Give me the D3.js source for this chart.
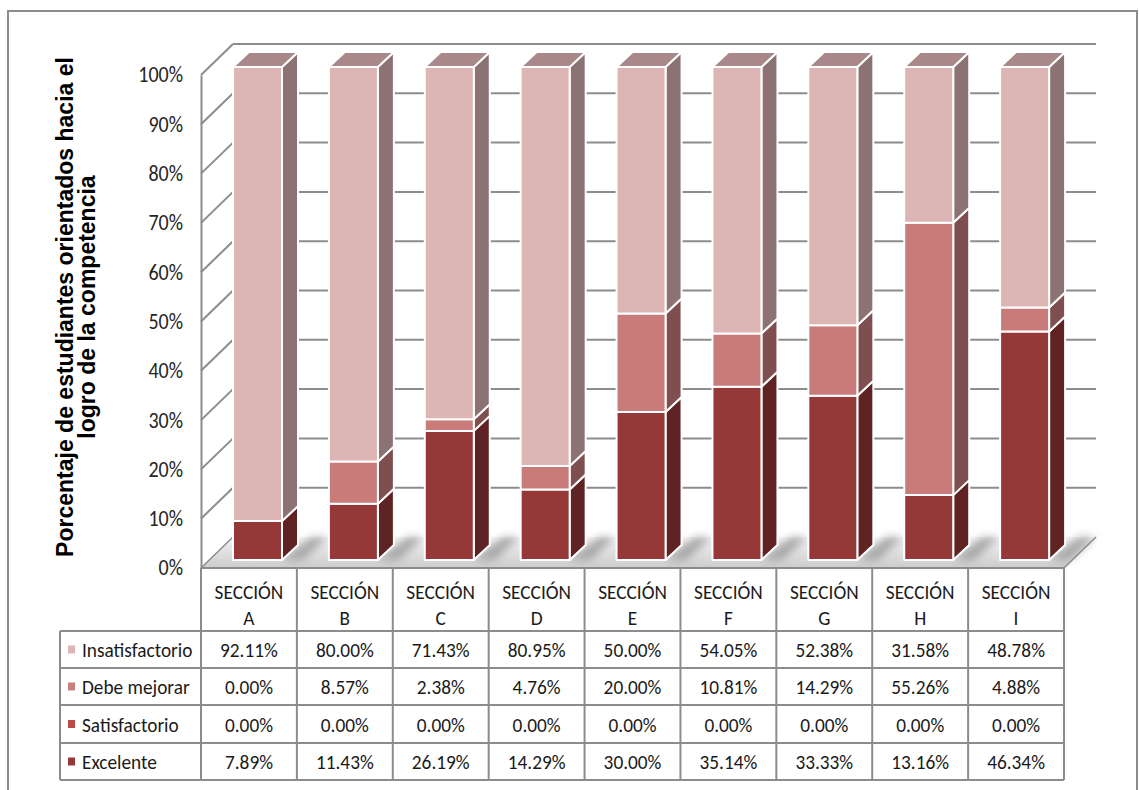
<!DOCTYPE html>
<html>
<head>
<meta charset="utf-8">
<script src="https://cdn.jsdelivr.net/npm/d3@7"></script>
<style>
  html, body { margin: 0; padding: 0; background: #ffffff; }
  svg { display: block; }
</style>
</head>
<body>
<script>
// Sections and level-of-achievement percentages per section
const sections = ["A", "B", "C", "D", "E", "F", "G", "H", "I"];
const sectionPrefix = "SECCIÓN";
const seriesNames = ["Insatisfactorio", "Debe mejorar", "Satisfactorio", "Excelente"];
const insatisfactorio = [92.11, 80.00, 71.43, 80.95, 50.00, 54.05, 52.38, 31.58, 48.78];
const debeMejorar    = [0.00, 8.57, 2.38, 4.76, 20.00, 10.81, 14.29, 55.26, 4.88];
const satisfactorio  = [0.00, 0.00, 0.00, 0.00, 0.00, 0.00, 0.00, 0.00, 0.00];
const excelente      = [7.89, 11.43, 26.19, 14.29, 30.00, 35.14, 33.33, 13.16, 46.34];
const yTicks = [0, 10, 20, 30, 40, 50, 60, 70, 80, 90, 100];
const yTitleLines = ["Porcentaje de estudiantes orientados hacia el", "logro de la competencia"];

const W = 1139, H = 790;
const svg = d3.select("body").append("svg").attr("width", W).attr("height", H);

// table rows keyed by series name
const seriesValues = {
  "Insatisfactorio": insatisfactorio,
  "Debe mejorar": debeMejorar,
  "Satisfactorio": satisfactorio,
  "Excelente": excelente
};
const rows = sections.map((s, i) => {
  const r = { section: s };
  seriesNames.forEach(n => r[n] = seriesValues[n][i]);
  return r;
});

// face colours per series
const faceColors = {
  "Insatisfactorio": { front: "#DDB5B5", side: "#8C7272", top: "#A88888", key: "#DDB5B5" },
  "Debe mejorar":    { front: "#C97B7A", side: "#7F4F50", top: "#A86666", key: "#CB7E7E" },
  "Satisfactorio":   { front: "#C0504D", side: "#6E2E2C", top: "#9A403E", key: "#BC4A48" },
  "Excelente":       { front: "#943838", side: "#5F2323", top: "#7A2D2D", key: "#943838" }
};

// geometry
const plotLeft = 201, plotRight = 1064;
const wallDx = 32, wallDy = -31;     // depth of walls / floor
const barDx = 16, barDy = -15;       // depth of each bar
const barOffset = 32, barWidth = 49; // bar front-face position in each band
const textStretch = "scale(1,1.08)"; // slightly tall table/axis lettering

const x = d3.scaleBand().domain(sections).range([plotLeft, plotRight]).padding(0);
const yFront = d3.scaleLinear().domain([0, 100]).range([568, 75]);
const yBar = d3.scaleLinear().domain([0, 100]).range([560, 67]);

const defs = svg.append("defs");
const floorGrad = defs.append("linearGradient").attr("id", "floorGrad")
  .attr("x1", 0).attr("y1", 0).attr("x2", 0).attr("y2", 1);
floorGrad.append("stop").attr("offset", "0%").attr("stop-color", "#f4f4f4");
floorGrad.append("stop").attr("offset", "100%").attr("stop-color", "#cccccc");
defs.append("filter").attr("id", "soft").attr("x", "-50%").attr("y", "-50%").attr("width", "200%").attr("height", "200%")
  .append("feGaussianBlur").attr("stdDeviation", 4);

// outer frame
svg.append("rect").attr("x", 8).attr("y", 11).attr("width", 1129).attr("height", 800)
  .attr("fill", "none").attr("stroke", "#8c8c8c").attr("stroke-width", 2);

// floor
const fy0 = yFront(0);
svg.append("polygon")
  .attr("points", [[plotLeft, fy0], [plotLeft + wallDx, fy0 + wallDy], [plotRight + wallDx, fy0 + wallDy], [plotRight, fy0]].join(" "))
  .attr("fill", "url(#floorGrad)").attr("stroke", "none");
svg.append("line")
  .attr("x1", plotRight).attr("y1", fy0).attr("x2", plotRight + wallDx).attr("y2", fy0 + wallDy)
  .attr("stroke", "#8c8c8c").attr("stroke-width", 1.5);

// bar shadows on the floor
const shadowG = svg.append("g").attr("filter", "url(#soft)");
sections.forEach(s => {
  const bx = x(s) + barOffset;
  const by = yBar(0);
  shadowG.append("polygon")
    .attr("points", [[bx + barWidth, by], [bx + barWidth + barDx + 14, by + barDy - 8], [bx + barWidth + barDx + 30, by + barDy - 8], [bx + barWidth + 20, by]].join(" "))
    .attr("fill", "#8a8a8a").attr("opacity", 0.7);
});

// gridlines: side wall diagonals and back wall horizontals
const grid = svg.append("g").attr("stroke", "#8c8c8c").attr("stroke-width", 2);
grid.selectAll("line.side").data(yTicks.filter(t => t > 0)).join("line").attr("class", "side")
  .attr("x1", plotLeft).attr("y1", d => yFront(d))
  .attr("x2", plotLeft + wallDx).attr("y2", d => yFront(d) + wallDy);
grid.selectAll("line.back").data(yTicks.filter(t => t > 0)).join("line").attr("class", "back")
  .attr("x1", plotLeft + wallDx).attr("y1", d => yFront(d) + wallDy)
  .attr("x2", plotRight + wallDx).attr("y2", d => yFront(d) + wallDy);
grid.append("line")
  .attr("x1", plotLeft).attr("y1", fy0).attr("x2", plotLeft + wallDx).attr("y2", fy0 + wallDy)
  .attr("stroke-width", 1.5);

// y axis
const axisG = svg.append("g").attr("transform", `translate(${plotLeft},0)`)
  .call(d3.axisLeft(yFront).tickValues(yTicks).tickFormat(d => d + "%").tickSize(0).tickSizeOuter(0).tickPadding(18));
axisG.select(".domain").attr("stroke", "#8c8c8c").attr("stroke-width", 2);
axisG.selectAll("text")
  .attr("font-family", "Carlito, Lato, sans-serif").attr("font-size", 20).attr("fill", "#262626")
  .attr("transform", textStretch);

// y axis title
const title = svg.append("text")
  .attr("transform", "translate(0,307) rotate(-90)")
  .attr("text-anchor", "middle")
  .attr("font-family", "'Liberation Sans', Arial, sans-serif")
  .attr("font-weight", "bold").attr("font-size", 23).attr("fill", "#000");
title.append("tspan").attr("x", 0).attr("y", 73).text(yTitleLines[0]);
title.append("tspan").attr("x", 0).attr("y", 95).text(yTitleLines[1]);

// stacked 3-D bars
const stackOrder = ["Excelente", "Satisfactorio", "Debe mejorar", "Insatisfactorio"];
const stacked = d3.stack().keys(stackOrder)(rows);
const barsG = svg.append("g");
stacked.forEach((layer, li) => {
  const c = faceColors[layer.key];
  layer.forEach((d, i) => {
    if (d[1] - d[0] <= 0) return;
    const bx = x(rows[i].section) + barOffset;
    const yt = yBar(d[1]), yb = yBar(d[0]);
    const g = barsG.append("g").attr("stroke", "#ffffff").attr("stroke-width", 2).attr("stroke-linejoin", "round");
    g.append("polygon")
      .attr("points", [[bx + barWidth, yt], [bx + barWidth + barDx, yt + barDy], [bx + barWidth + barDx, yb + barDy], [bx + barWidth, yb]].join(" "))
      .attr("fill", c.side);
    g.append("rect").attr("x", bx).attr("y", yt).attr("width", barWidth).attr("height", yb - yt)
      .attr("fill", c.front);
    const isTop = stacked.slice(li + 1).every(l => l[i][1] - l[i][0] <= 0);
    if (isTop) {
      g.append("polygon")
        .attr("points", [[bx, yt], [bx + barDx, yt + barDy], [bx + barWidth + barDx, yt + barDy], [bx + barWidth, yt]].join(" "))
        .attr("fill", c.top);
    }
  });
});

// data table
const tableLeft = 60;
const headerTop = yFront(0);
const rowEdges = [631, 668, 705, 743, 780];
const colEdges = sections.map(s => x(s)).concat([plotRight]);
const tableFont = "Carlito, Lato, sans-serif";
const tableSize = 19.3;
const tbl = svg.append("g");
const lineColor = "#8c8c8c";

function cellText(px, py, str, anchor) {
  tbl.append("text")
    .attr("transform", `translate(${px},${py}) ${textStretch}`)
    .attr("dy", "0.36em").attr("text-anchor", anchor)
    .attr("font-family", tableFont).attr("font-size", tableSize).attr("fill", "#1a1a1a")
    .text(str);
}

tbl.append("line").attr("x1", plotLeft).attr("x2", plotRight).attr("y1", headerTop).attr("y2", headerTop)
  .attr("stroke", lineColor).attr("stroke-width", 2);
tbl.selectAll("line.h").data(rowEdges).join("line").attr("class", "h")
  .attr("x1", tableLeft).attr("x2", plotRight).attr("y1", d => d).attr("y2", d => d)
  .attr("stroke", lineColor).attr("stroke-width", 2);
tbl.selectAll("line.v").data(colEdges).join("line").attr("class", "v")
  .attr("x1", d => d).attr("x2", d => d).attr("y1", headerTop).attr("y2", rowEdges[rowEdges.length - 1])
  .attr("stroke", lineColor).attr("stroke-width", 2);
tbl.append("line").attr("x1", tableLeft).attr("x2", tableLeft).attr("y1", rowEdges[0]).attr("y2", rowEdges[rowEdges.length - 1])
  .attr("stroke", lineColor).attr("stroke-width", 2);

// header cells
sections.forEach(s => {
  const cx = x(s) + x.bandwidth() / 2;
  cellText(cx, 591, sectionPrefix, "middle");
  cellText(cx, 617, s, "middle");
});

// value rows with legend keys
seriesNames.forEach((name, ri) => {
  const cy = (rowEdges[ri] + rowEdges[ri + 1]) / 2;
  tbl.append("rect").attr("x", 68).attr("y", cy - 4).attr("width", 7).attr("height", 8)
    .attr("fill", faceColors[name].key);
  cellText(82, cy, name, "start");
  rows.forEach(r => {
    cellText(x(r.section) + x.bandwidth() / 2, cy, r[name].toFixed(2) + "%", "middle");
  });
});
</script>
</body>
</html>
